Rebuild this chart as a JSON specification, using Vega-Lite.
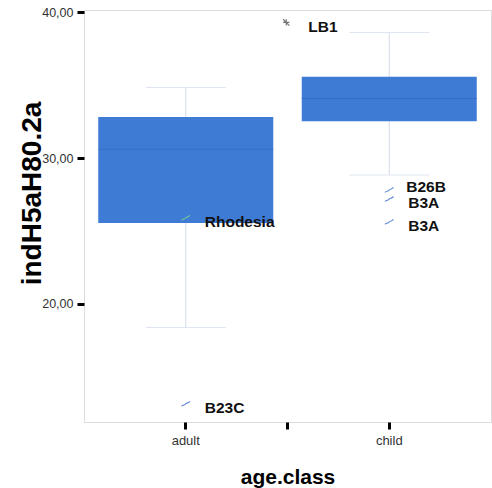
{
  "$schema": "https://vega.github.io/schema/vega-lite/v6.json",
  "width": 407,
  "height": 412,
  "autosize": {"type": "none"},
  "padding": {"left": 84, "top": 10, "right": 1, "bottom": 66},
  "background": "white",
  "config": {
    "font": "Liberation Sans",
    "view": {"stroke": "#dcdcdc", "strokeWidth": 1},
    "axisY": {
      "labelExpr": "replace(format(datum.value, '.2f'), '.', ',')",
      "tickWidth": 3, "tickSize": 7, "tickColor": "black",
      "domain": false, "grid": false,
      "labelFontSize": 12.5, "labelColor": "#333333", "labelPadding": 4,
      "titleFontSize": 28, "titleFontWeight": "bold", "titleColor": "black",
      "titleX": -44, "titleY": 183, "titleBaseline": "alphabetic", "titleAngle": -90, "titleAlign": "center"
    },
    "axisX": {
      "tickWidth": 3, "tickSize": 7, "tickColor": "black",
      "domain": false, "grid": false, "labelAngle": 0,
      "labelFontSize": 13, "labelColor": "#333333", "labelPadding": 5,
      "titleFontSize": 21, "titleFontWeight": "bold", "titleColor": "black", "titlePadding": 19
    }
  },
  "datasets": {
    "boxes": [
      {"age": "adult", "lower": 18.38, "q1": 25.55, "median": 30.6, "q3": 32.81, "upper": 34.84},
      {"age": "child", "lower": 28.84, "q1": 32.53, "median": 34.09, "q3": 35.57, "upper": 38.61}
    ],
    "outliers": [
      {"age": "adult", "value": 25.9, "label": "Rhodesia"},
      {"age": "adult", "value": 13.15, "label": "B23C"},
      {"age": "child", "value": 39.3, "label": "LB1"},
      {"age": "child", "value": 27.81, "label": "B26B"},
      {"age": "child", "value": 27.19, "label": "B3A"},
      {"age": "child", "value": 25.62, "label": "B3A"}
    ]
  },
  "resolve": {"axis": {"x": "independent"}},
  "layer": [
    {
      "data": {"name": "boxes"},
      "mark": {"type": "rule", "color": "#d3dcea", "strokeWidth": 1},
      "encoding": {
        "x": {"field": "age", "type": "nominal", "scale": {"domain": ["adult", "child"], "paddingInner": 0, "paddingOuter": 0},
              "axis": {"values": ["child"], "bandPosition": 0, "labels": false, "title": null, "orient": "bottom"}},
        "y": {"field": "lower", "type": "quantitative", "title": "indH5aH80.2a", "axis": {"values": [20, 30, 40]}, "scale": {"domain": [11.9, 40.15], "nice": false, "zero": false}},
        "y2": {"field": "upper"}
      }
    },
    {
      "data": {"name": "boxes"},
      "mark": {"type": "tick", "color": "#d3dcea", "size": 80, "thickness": 1, "orient": "horizontal"},
      "encoding": {
        "x": {"field": "age", "type": "nominal", "axis": null},
        "y": {"field": "lower", "type": "quantitative", "title": "indH5aH80.2a", "axis": {"values": [20, 30, 40]}, "scale": {"domain": [11.9, 40.15], "nice": false, "zero": false}}
      }
    },
    {
      "data": {"name": "boxes"},
      "mark": {"type": "tick", "color": "#d3dcea", "size": 80, "thickness": 1, "orient": "horizontal"},
      "encoding": {
        "x": {"field": "age", "type": "nominal", "axis": null},
        "y": {"field": "upper", "type": "quantitative", "title": "indH5aH80.2a", "axis": {"values": [20, 30, 40]}, "scale": {"domain": [11.9, 40.15], "nice": false, "zero": false}}
      }
    },
    {
      "data": {"name": "boxes"},
      "mark": {"type": "bar", "color": "#3e7bd5", "width": {"band": 0.86}},
      "encoding": {
        "x": {"field": "age", "type": "nominal", "title": "age.class", "axis": {"orient": "bottom"}},
        "y": {"field": "q1", "type": "quantitative", "title": "indH5aH80.2a", "axis": {"values": [20, 30, 40]}, "scale": {"domain": [11.9, 40.15], "nice": false, "zero": false}},
        "y2": {"field": "q3"}
      }
    },
    {
      "data": {"name": "boxes"},
      "mark": {"type": "tick", "color": "#3467bd", "size": 175, "thickness": 1, "orient": "horizontal"},
      "encoding": {
        "x": {"field": "age", "type": "nominal", "axis": null},
        "y": {"field": "median", "type": "quantitative", "title": "indH5aH80.2a", "axis": {"values": [20, 30, 40]}, "scale": {"domain": [11.9, 40.15], "nice": false, "zero": false}}
      }
    },
    {
      "data": {"name": "outliers"},
      "transform": [{"filter": "datum.label !== 'LB1'"}],
      "mark": {"type": "point", "shape": "M-1,0.6 C-0.7,0.1 -0.4,0.5 -0.1,0.1 C0.2,-0.3 0.5,0 1,-0.6", "size": 70, "filled": false, "strokeWidth": 1.2, "opacity": 1},
      "encoding": {
        "x": {"field": "age", "type": "nominal", "axis": null},
        "y": {"field": "value", "type": "quantitative", "title": "indH5aH80.2a", "axis": {"values": [20, 30, 40]}, "scale": {"domain": [11.9, 40.15], "nice": false, "zero": false}},
        "color": {"condition": {"test": "datum.label === 'Rhodesia'", "value": "#72c29c"}, "value": "#6b8fd8"}
      }
    },
    {
      "data": {"name": "outliers"},
      "transform": [{"filter": "datum.label === 'LB1'"}],
      "mark": {"type": "point", "shape": "M-1,-1 L1,1 M-1,0 L1,0 M0,-1 L0,1", "size": 40, "filled": false, "strokeWidth": 1.2, "color": "#777777", "opacity": 1, "xOffset": -103},
      "encoding": {
        "x": {"field": "age", "type": "nominal", "axis": null},
        "y": {"field": "value", "type": "quantitative", "title": "indH5aH80.2a", "axis": {"values": [20, 30, 40]}, "scale": {"domain": [11.9, 40.15], "nice": false, "zero": false}}
      }
    },
    {
      "data": {"name": "outliers"},
      "transform": [{"filter": "datum.label !== 'LB1' && datum.label !== 'B26B'"}],
      "mark": {"type": "text", "align": "left", "baseline": "middle", "dx": 19, "dy": 4, "fontSize": 15.5, "fontWeight": "bold", "color": "#111111"},
      "encoding": {
        "x": {"field": "age", "type": "nominal", "axis": null},
        "y": {"field": "value", "type": "quantitative", "title": "indH5aH80.2a", "axis": {"values": [20, 30, 40]}, "scale": {"domain": [11.9, 40.15], "nice": false, "zero": false}},
        "text": {"field": "label"}
      }
    },
    {
      "data": {"name": "outliers"},
      "transform": [{"filter": "datum.label === 'B26B'"}],
      "mark": {"type": "text", "align": "left", "baseline": "middle", "dx": 17, "dy": -3, "fontSize": 15.5, "fontWeight": "bold", "color": "#111111"},
      "encoding": {
        "x": {"field": "age", "type": "nominal", "axis": null},
        "y": {"field": "value", "type": "quantitative", "title": "indH5aH80.2a", "axis": {"values": [20, 30, 40]}, "scale": {"domain": [11.9, 40.15], "nice": false, "zero": false}},
        "text": {"field": "label"}
      }
    },
    {
      "data": {"name": "outliers"},
      "transform": [{"filter": "datum.label === 'LB1'"}],
      "mark": {"type": "text", "align": "left", "baseline": "middle", "dx": -81, "dy": 5, "fontSize": 15.5, "fontWeight": "bold", "color": "#111111"},
      "encoding": {
        "x": {"field": "age", "type": "nominal", "axis": null},
        "y": {"field": "value", "type": "quantitative", "title": "indH5aH80.2a", "axis": {"values": [20, 30, 40]}, "scale": {"domain": [11.9, 40.15], "nice": false, "zero": false}},
        "text": {"field": "label"}
      }
    }
  ]
}
